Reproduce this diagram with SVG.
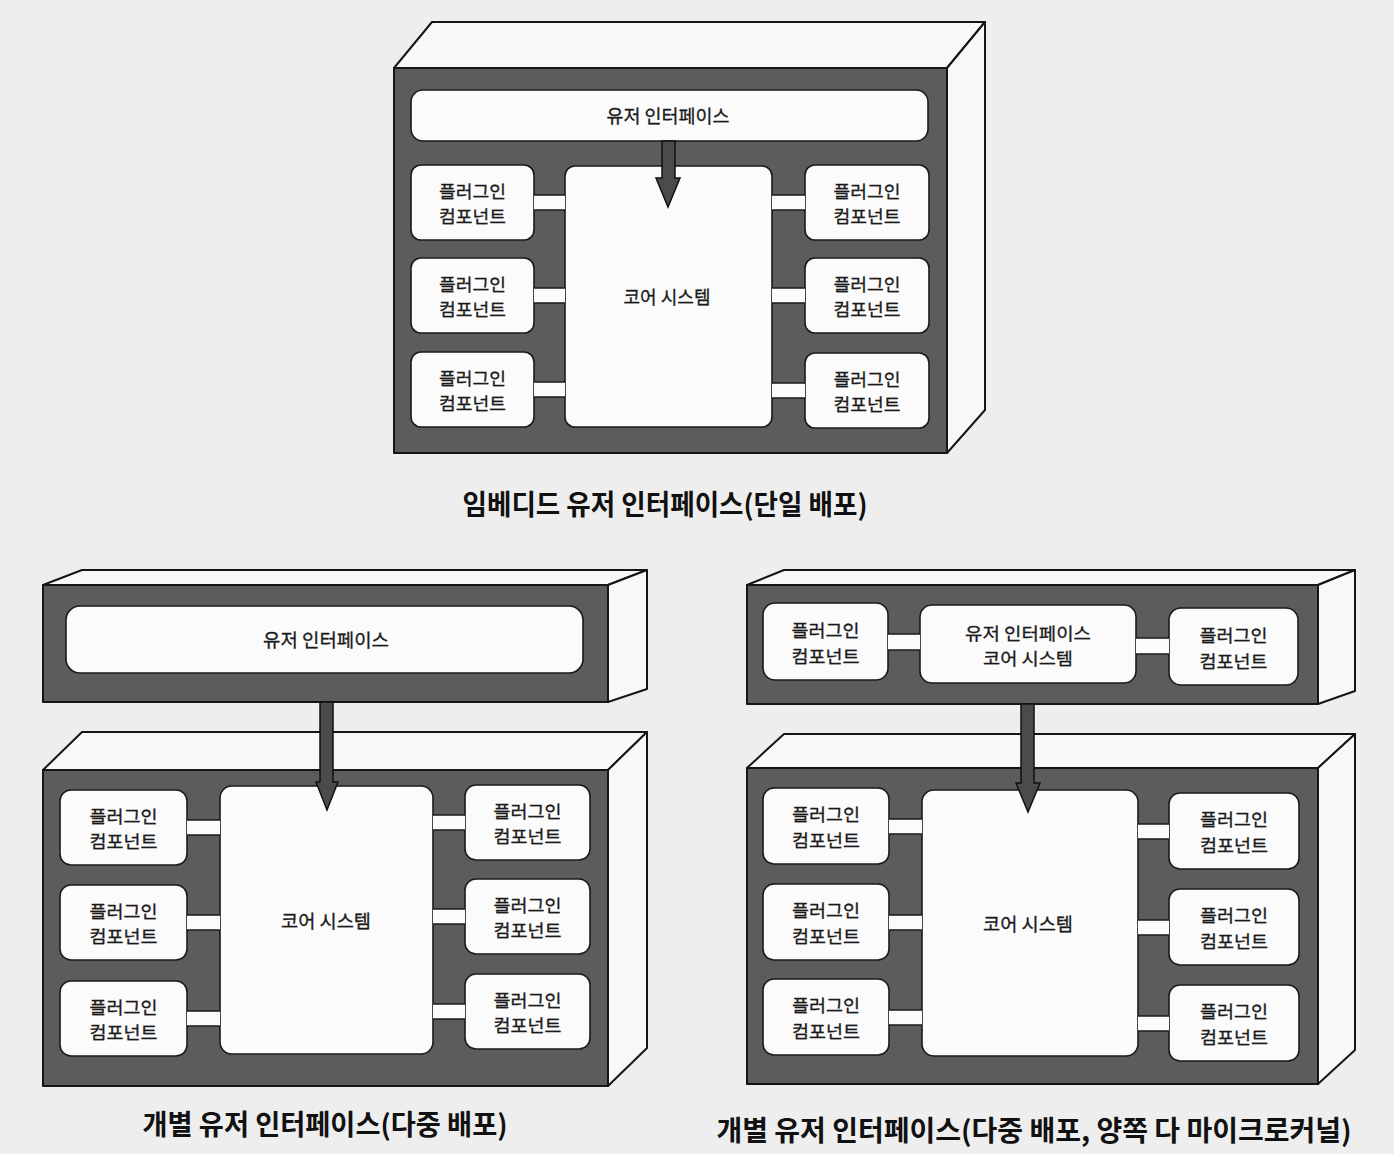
<svg xmlns="http://www.w3.org/2000/svg" width="1394" height="1154" viewBox="0 0 1394 1154">
<style>
.bg{fill:#eeeeee}
.front{fill:#5b5d5b;stroke:#151515;stroke-width:2;stroke-linejoin:round}
.face{fill:#f8f8f8;stroke:#151515;stroke-width:2;stroke-linejoin:round}
.box{fill:#fbfbfb;stroke:#1a1a1a;stroke-width:1.6}
.lfill{fill:#fbfbfb}
.ledge{fill:none;stroke:#1a1a1a;stroke-width:1.6}
.arrow{fill:#4a4b4a;stroke:#111;stroke-width:1.5;stroke-linejoin:miter}
.t{font-family:"Noto Sans CJK KR","Noto Sans",sans-serif;font-size:18.5px;fill:#1a1a1a;stroke:#1a1a1a;stroke-width:0.3;text-anchor:middle}
.t2{font-family:"Noto Sans CJK KR","Noto Sans",sans-serif;font-size:17.5px;fill:#1a1a1a;stroke:#1a1a1a;stroke-width:0.3;text-anchor:middle}
.cap{font-family:"Noto Sans CJK KR","Noto Sans",sans-serif;font-size:28px;font-weight:700;fill:#111;text-anchor:middle}
</style>
<rect class="bg" x="0" y="0" width="1394" height="1154"/>

<!-- Diagram 1: embedded UI -->
<g id="d1-frame">
  <polygon class="face" points="394,68 432,22 985,22 947,68"/>
  <polygon class="face" points="947,68 985,22 985,410 947,453"/>
  <rect class="front" x="394" y="68" width="553" height="385"/>
</g>
<g id="d1-ui">
  <rect class="box" x="411" y="90" width="517" height="51" rx="12"/>
  <text class="t" x="668" y="123" textLength="123" lengthAdjust="spacingAndGlyphs">유저 인터페이스</text>
</g>
<g id="d1-core">
  <rect class="box" x="565" y="166" width="207" height="261" rx="10"/>
  <text class="t" x="667" y="304" textLength="87" lengthAdjust="spacingAndGlyphs">코어 시스템</text>
</g>
<g id="d1-pl1">
  <rect class="box" x="411" y="165" width="123" height="75" rx="10"/>
  <text class="t2" x="472.5" y="197.5" textLength="67" lengthAdjust="spacingAndGlyphs">플러그인</text>
  <text class="t2" x="472.5" y="223" textLength="67" lengthAdjust="spacingAndGlyphs">컴포넌트</text>
</g>
<g id="d1-pl2">
  <rect class="box" x="411" y="258" width="123" height="75" rx="10"/>
  <text class="t2" x="472.5" y="290.5" textLength="67" lengthAdjust="spacingAndGlyphs">플러그인</text>
  <text class="t2" x="472.5" y="316" textLength="67" lengthAdjust="spacingAndGlyphs">컴포넌트</text>
</g>
<g id="d1-pl3">
  <rect class="box" x="411" y="352" width="123" height="75" rx="10"/>
  <text class="t2" x="472.5" y="384.5" textLength="67" lengthAdjust="spacingAndGlyphs">플러그인</text>
  <text class="t2" x="472.5" y="410" textLength="67" lengthAdjust="spacingAndGlyphs">컴포넌트</text>
</g>
<g id="d1-pr1">
  <rect class="box" x="805" y="165" width="124" height="75" rx="10"/>
  <text class="t2" x="867" y="197.5" textLength="67" lengthAdjust="spacingAndGlyphs">플러그인</text>
  <text class="t2" x="867" y="223" textLength="67" lengthAdjust="spacingAndGlyphs">컴포넌트</text>
</g>
<g id="d1-pr2">
  <rect class="box" x="805" y="258" width="124" height="75" rx="10"/>
  <text class="t2" x="867" y="290.5" textLength="67" lengthAdjust="spacingAndGlyphs">플러그인</text>
  <text class="t2" x="867" y="316" textLength="67" lengthAdjust="spacingAndGlyphs">컴포넌트</text>
</g>
<g id="d1-pr3">
  <rect class="box" x="805" y="353" width="124" height="75" rx="10"/>
  <text class="t2" x="867" y="385.5" textLength="67" lengthAdjust="spacingAndGlyphs">플러그인</text>
  <text class="t2" x="867" y="411" textLength="67" lengthAdjust="spacingAndGlyphs">컴포넌트</text>
</g>

<!-- Diagram 2: separate UI (multi deployment) -->
<g id="d2-ui-frame">
  <polygon class="face" points="43,585 82,570 647,570 608,585"/>
  <polygon class="face" points="608,585 647,570 647,689 608,702"/>
  <rect class="front" x="43" y="585" width="565" height="117"/>
</g>
<g id="d2-ui">
  <rect class="box" x="66" y="606" width="517" height="67" rx="14"/>
  <text class="t" x="326" y="647" textLength="126" lengthAdjust="spacingAndGlyphs">유저 인터페이스</text>
</g>
<g id="d2-frame">
  <polygon class="face" points="43,770 82,732 647,732 608,770"/>
  <polygon class="face" points="608,770 647,732 647,1048 608,1086"/>
  <rect class="front" x="43" y="770" width="565" height="316"/>
</g>
<g id="d2-core">
  <rect class="box" x="220" y="786" width="213" height="268" rx="12"/>
  <text class="t" x="326" y="928" textLength="90" lengthAdjust="spacingAndGlyphs">코어 시스템</text>
</g>
<g id="d2-pl1">
  <rect class="box" x="60" y="790" width="127" height="75" rx="11"/>
  <text class="t2" x="123.5" y="822.5" textLength="68" lengthAdjust="spacingAndGlyphs">플러그인</text>
  <text class="t2" x="123.5" y="848" textLength="68" lengthAdjust="spacingAndGlyphs">컴포넌트</text>
</g>
<g id="d2-pl2">
  <rect class="box" x="60" y="885" width="127" height="75" rx="11"/>
  <text class="t2" x="123.5" y="917.5" textLength="68" lengthAdjust="spacingAndGlyphs">플러그인</text>
  <text class="t2" x="123.5" y="943" textLength="68" lengthAdjust="spacingAndGlyphs">컴포넌트</text>
</g>
<g id="d2-pl3">
  <rect class="box" x="60" y="981" width="127" height="75" rx="11"/>
  <text class="t2" x="123.5" y="1013.5" textLength="68" lengthAdjust="spacingAndGlyphs">플러그인</text>
  <text class="t2" x="123.5" y="1039" textLength="68" lengthAdjust="spacingAndGlyphs">컴포넌트</text>
</g>
<g id="d2-pr1">
  <rect class="box" x="465" y="785" width="125" height="75" rx="11"/>
  <text class="t2" x="527.5" y="817.5" textLength="68" lengthAdjust="spacingAndGlyphs">플러그인</text>
  <text class="t2" x="527.5" y="843" textLength="68" lengthAdjust="spacingAndGlyphs">컴포넌트</text>
</g>
<g id="d2-pr2">
  <rect class="box" x="465" y="879" width="125" height="75" rx="11"/>
  <text class="t2" x="527.5" y="911.5" textLength="68" lengthAdjust="spacingAndGlyphs">플러그인</text>
  <text class="t2" x="527.5" y="937" textLength="68" lengthAdjust="spacingAndGlyphs">컴포넌트</text>
</g>
<g id="d2-pr3">
  <rect class="box" x="465" y="974" width="125" height="75" rx="11"/>
  <text class="t2" x="527.5" y="1006.5" textLength="68" lengthAdjust="spacingAndGlyphs">플러그인</text>
  <text class="t2" x="527.5" y="1032" textLength="68" lengthAdjust="spacingAndGlyphs">컴포넌트</text>
</g>

<!-- Diagram 3: separate UI, both microkernel -->
<g id="d3-ui-frame">
  <polygon class="face" points="747,585 784,570 1355,570 1318,585"/>
  <polygon class="face" points="1318,585 1355,570 1355,691 1318,704"/>
  <rect class="front" x="747" y="585" width="571" height="119"/>
</g>
<g id="d3-ui-pl">
  <rect class="box" x="763" y="603" width="125" height="77" rx="12"/>
  <text class="t2" x="825.5" y="637" textLength="68" lengthAdjust="spacingAndGlyphs">플러그인</text>
  <text class="t2" x="825.5" y="662.5" textLength="68" lengthAdjust="spacingAndGlyphs">컴포넌트</text>
</g>
<g id="d3-ui-core">
  <rect class="box" x="920" y="605" width="216" height="78" rx="12"/>
  <text class="t2" x="1028" y="639.5" textLength="126" lengthAdjust="spacingAndGlyphs">유저 인터페이스</text>
  <text class="t2" x="1028" y="665" textLength="90" lengthAdjust="spacingAndGlyphs">코어 시스템</text>
</g>
<g id="d3-ui-pr">
  <rect class="box" x="1169" y="608" width="129" height="77" rx="12"/>
  <text class="t2" x="1233.5" y="642" textLength="68" lengthAdjust="spacingAndGlyphs">플러그인</text>
  <text class="t2" x="1233.5" y="667.5" textLength="68" lengthAdjust="spacingAndGlyphs">컴포넌트</text>
</g>
<g id="d3-frame">
  <polygon class="face" points="747,768 784,734 1355,734 1318,768"/>
  <polygon class="face" points="1318,768 1355,734 1355,1050 1318,1084"/>
  <rect class="front" x="747" y="768" width="571" height="316"/>
</g>
<g id="d3-core">
  <rect class="box" x="922" y="790" width="216" height="266" rx="12"/>
  <text class="t" x="1028" y="931" textLength="90" lengthAdjust="spacingAndGlyphs">코어 시스템</text>
</g>
<g id="d3-pl1">
  <rect class="box" x="763" y="788" width="126" height="76" rx="11"/>
  <text class="t2" x="826" y="821" textLength="68" lengthAdjust="spacingAndGlyphs">플러그인</text>
  <text class="t2" x="826" y="846.5" textLength="68" lengthAdjust="spacingAndGlyphs">컴포넌트</text>
</g>
<g id="d3-pl2">
  <rect class="box" x="763" y="884" width="126" height="76" rx="11"/>
  <text class="t2" x="826" y="917" textLength="68" lengthAdjust="spacingAndGlyphs">플러그인</text>
  <text class="t2" x="826" y="942.5" textLength="68" lengthAdjust="spacingAndGlyphs">컴포넌트</text>
</g>
<g id="d3-pl3">
  <rect class="box" x="763" y="979" width="126" height="76" rx="11"/>
  <text class="t2" x="826" y="1012" textLength="68" lengthAdjust="spacingAndGlyphs">플러그인</text>
  <text class="t2" x="826" y="1037.5" textLength="68" lengthAdjust="spacingAndGlyphs">컴포넌트</text>
</g>
<g id="d3-pr1">
  <rect class="box" x="1169" y="793" width="130" height="76" rx="11"/>
  <text class="t2" x="1234" y="826" textLength="68" lengthAdjust="spacingAndGlyphs">플러그인</text>
  <text class="t2" x="1234" y="851.5" textLength="68" lengthAdjust="spacingAndGlyphs">컴포넌트</text>
</g>
<g id="d3-pr2">
  <rect class="box" x="1169" y="889" width="130" height="76" rx="11"/>
  <text class="t2" x="1234" y="922" textLength="68" lengthAdjust="spacingAndGlyphs">플러그인</text>
  <text class="t2" x="1234" y="947.5" textLength="68" lengthAdjust="spacingAndGlyphs">컴포넌트</text>
</g>
<g id="d3-pr3">
  <rect class="box" x="1169" y="985" width="130" height="76" rx="11"/>
  <text class="t2" x="1234" y="1018" textLength="68" lengthAdjust="spacingAndGlyphs">플러그인</text>
  <text class="t2" x="1234" y="1043.5" textLength="68" lengthAdjust="spacingAndGlyphs">컴포넌트</text>
</g>

<!-- Connectors -->
<g id="connectors">
  <rect class="lfill" x="534" y="195" width="31" height="15"/><path class="ledge" d="M534 195H565M534 210H565"/>
  <rect class="lfill" x="534" y="288" width="31" height="15"/><path class="ledge" d="M534 288H565M534 303H565"/>
  <rect class="lfill" x="534" y="382" width="31" height="15"/><path class="ledge" d="M534 382H565M534 397H565"/>
  <rect class="lfill" x="772" y="195" width="33" height="15"/><path class="ledge" d="M772 195H805M772 210H805"/>
  <rect class="lfill" x="772" y="288" width="33" height="15"/><path class="ledge" d="M772 288H805M772 303H805"/>
  <rect class="lfill" x="772" y="383" width="33" height="15"/><path class="ledge" d="M772 383H805M772 398H805"/>
  <polygon class="arrow" points="662,141 675,141 675,178 680,178 668,207 656,178 662,178"/>

  <rect class="lfill" x="187" y="820" width="33" height="15"/><path class="ledge" d="M187 820H220M187 835H220"/>
  <rect class="lfill" x="187" y="915" width="33" height="15"/><path class="ledge" d="M187 915H220M187 930H220"/>
  <rect class="lfill" x="187" y="1011" width="33" height="15"/><path class="ledge" d="M187 1011H220M187 1026H220"/>
  <rect class="lfill" x="433" y="815" width="32" height="15"/><path class="ledge" d="M433 815H465M433 830H465"/>
  <rect class="lfill" x="433" y="909" width="32" height="15"/><path class="ledge" d="M433 909H465M433 924H465"/>
  <rect class="lfill" x="433" y="1004" width="32" height="15"/><path class="ledge" d="M433 1004H465M433 1019H465"/>
  <polygon class="arrow" points="320,702 333,702 333,782 338,782 327,810 316,782 320,782"/>

  <rect class="lfill" x="888" y="634" width="32" height="16"/><path class="ledge" d="M888 634H920M888 650H920"/>
  <rect class="lfill" x="1136" y="638" width="33" height="16"/><path class="ledge" d="M1136 638H1169M1136 654H1169"/>
  <rect class="lfill" x="889" y="819" width="33" height="15"/><path class="ledge" d="M889 819H922M889 834H922"/>
  <rect class="lfill" x="889" y="915" width="33" height="15"/><path class="ledge" d="M889 915H922M889 930H922"/>
  <rect class="lfill" x="889" y="1010" width="33" height="15"/><path class="ledge" d="M889 1010H922M889 1025H922"/>
  <rect class="lfill" x="1138" y="824" width="31" height="15"/><path class="ledge" d="M1138 824H1169M1138 839H1169"/>
  <rect class="lfill" x="1138" y="920" width="31" height="15"/><path class="ledge" d="M1138 920H1169M1138 935H1169"/>
  <rect class="lfill" x="1138" y="1016" width="31" height="15"/><path class="ledge" d="M1138 1016H1169M1138 1031H1169"/>
  <polygon class="arrow" points="1021,704 1034,704 1034,783 1040,783 1028,812 1016,783 1021,783"/>
</g>

<!-- Captions -->
<g id="captions">
  <text class="cap" x="665" y="515" textLength="405" lengthAdjust="spacingAndGlyphs">임베디드 유저 인터페이스(단일 배포)</text>
  <text class="cap" x="325" y="1135" textLength="365" lengthAdjust="spacingAndGlyphs">개별 유저 인터페이스(다중 배포)</text>
  <text class="cap" x="1034" y="1141" textLength="635" lengthAdjust="spacingAndGlyphs">개별 유저 인터페이스(다중 배포, 양쪽 다 마이크로커널)</text>
</g>
</svg>
